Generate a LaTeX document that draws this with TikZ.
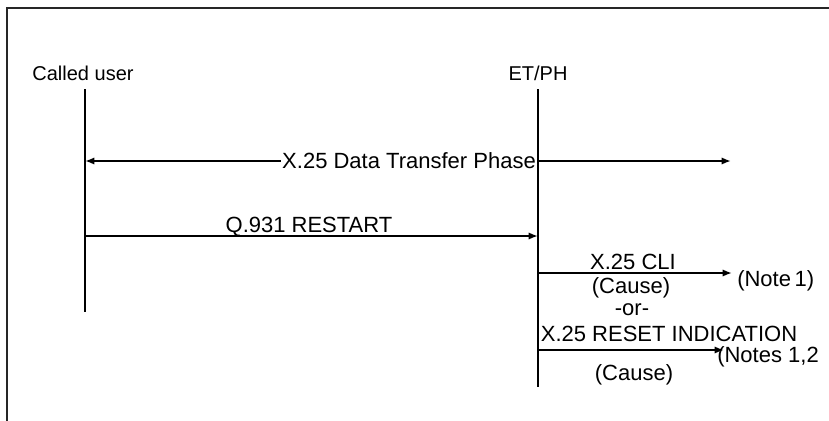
\documentclass[tikz,border=0pt]{standalone}
\usepackage{fontspec}
\setmainfont{Liberation Sans}
\usetikzlibrary{arrows.meta}
\begin{document}
\begin{tikzpicture}[x=0.75pt,y=-0.75pt,>={Latex[length=7pt,width=5.5pt]},
  every node/.style={font=\fontsize{16.5}{19}\selectfont,inner sep=0pt},
  lbl/.style={anchor=base},
  head/.style={anchor=base,font=\fontsize{15}{18}\selectfont},
  msg/.style={line width=2pt,->}]
  \useasboundingbox (0,0) rectangle (829,421);
  \draw[line width=1.3pt,black!85] (7,421) -- (7,8) -- (829,8);
  \node[head] (cu) at (83,80) {Called user};
  \node[head] (et) at (538,80) {ET/PH};
  \coordinate (cutop) at (85,89);
  \coordinate (cubot) at (85,312);
  \coordinate (ettop) at (538,89);
  \coordinate (etbot) at (538,387);
  \coordinate (dtl) at (85,161);
  \coordinate (dtr) at (731,161);
  \coordinate (rsl) at (85,236);
  \coordinate (rsr) at (538,236);
  \coordinate (clil) at (538,273);
  \coordinate (clir) at (732,273);
  \coordinate (ril) at (538,350);
  \coordinate (rir) at (724,350);
  \draw[msg,<->] (dtl) -- (dtr);
  \node[fill=white,inner sep=1pt] (dtp) at (409,161) {X.25 Data Transfer Phase};
  \draw[msg] (rsl) -- (rsr);
  \draw[msg] (clil) -- (clir);
  \draw[msg] (ril) -- (rir);
  \draw[line width=2pt] (cutop) -- (cubot);
  \draw[line width=2pt] (ettop) -- (etbot);
  \node[lbl] (rst) at (309,232) {Q.931 RESTART};
  \node[lbl] (cli) at (633,269) {X.25 CLI};
  \node[lbl,anchor=base west] (n1) at (737,286) {(Note\,1)};
  \node[lbl] (c1) at (631,293) {(Cause)};
  \node[lbl] (or) at (632,315) {-or-};
  \node[lbl] (ri) at (669,341) {X.25 RESET INDICATION};
  \node[lbl,anchor=base west] (n12) at (717,362) {(Notes 1,2};
  \node[lbl] (c2) at (634,380) {(Cause)};
\end{tikzpicture}
\end{document}
